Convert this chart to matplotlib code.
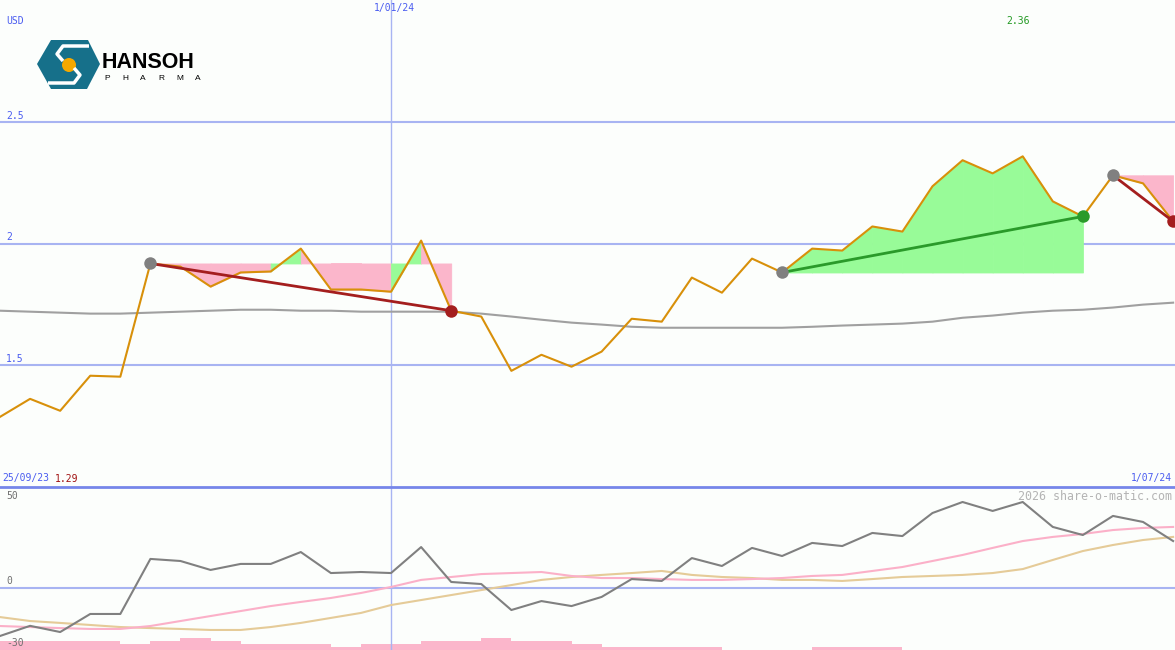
import numpy as np
import matplotlib
matplotlib.use("Agg")
import matplotlib.pyplot as plt
from matplotlib.patches import Polygon, Circle

# ---------------- data ----------------
price = [1.288, 1.362, 1.313, 1.457, 1.453, 1.918, 1.905, 1.823, 1.881, 1.885,
         1.979, 1.811, 1.811, 1.802, 2.012, 1.724, 1.700, 1.477, 1.543, 1.494,
         1.556, 1.691, 1.679, 1.860, 1.798, 1.938, 1.881, 1.979, 1.971, 2.070,
         2.049, 2.235, 2.342, 2.288, 2.358, 2.173, 2.111, 2.280, 2.247, 2.091]
ma_long = [1.724, 1.720, 1.716, 1.712, 1.712, 1.716, 1.720, 1.724, 1.728, 1.728,
           1.724, 1.724, 1.720, 1.720, 1.720, 1.720, 1.712, 1.700, 1.687, 1.675,
           1.667, 1.658, 1.654, 1.654, 1.654, 1.654, 1.654, 1.658, 1.663, 1.667,
           1.671, 1.679, 1.695, 1.704, 1.716, 1.724, 1.728, 1.737, 1.749, 1.757]
momentum = [-27.9, -22.0, -25.6, -15.1, -15.1, 16.9, 15.7, 10.5, 14.0, 14.0,
            20.9, 8.7, 9.3, 8.7, 23.8, 3.5, 2.3, -12.8, -7.6, -10.5,
            -5.2, 5.2, 4.1, 17.4, 12.8, 23.3, 18.6, 26.2, 24.4, 32.0,
            30.2, 43.6, 50.0, 44.8, 50.0, 35.5, 30.8, 41.9, 38.4, 27.3]
mom_fast = [-22.1, -22.7, -23.3, -23.8, -23.8, -22.1, -19.2, -16.3, -13.4, -10.5,
            -8.1, -5.8, -2.9, 0.6, 4.7, 6.4, 8.1, 8.7, 9.3, 7.0,
            5.8, 5.8, 5.2, 4.7, 4.7, 5.2, 5.8, 7.0, 7.6, 9.9,
            12.2, 15.7, 19.2, 23.3, 27.3, 29.7, 31.4, 33.7, 34.9, 35.5]
mom_slow = [-16.9, -19.2, -20.3, -21.5, -22.7, -23.3, -23.8, -24.4, -24.4, -22.7,
            -20.3, -17.4, -14.5, -9.9, -7.0, -4.1, -1.2, 1.7, 4.7, 6.4,
            7.6, 8.7, 9.9, 7.6, 6.4, 5.8, 4.7, 4.7, 4.1, 5.2,
            6.4, 7.0, 7.6, 8.7, 11.0, 16.3, 21.5, 25.0, 27.9, 29.7]
volume = [3, 3, 3, 3, 2, 3, 4, 3, 2, 2,
          2, 1, 2, 2, 3, 3, 4, 3, 3, 2,
          1, 1, 1, 1, 0, 0, 0, 1, 1, 1,
          0, 0, 0, 0, 0, 0, 0, 0, 0, 0]
# trend segments (start index, end index)
segments = [(5, 15), (26, 36), (37, 39)]
price_ticks = [1.5, 2.0, 2.5]
price_tick_labels = ["1.5", "2", "2.5"]
date_line_index = 13
date_line_label = "1/01/24"
start_label = "25/09/23"
end_label = "1/07/24"
start_price_label = "1.29"
high_label = "2.36"

# ---------------- style ----------------
BG = "#fcfefc"
GRID = "#a8b4f2"
DIV = "#7686ea"
TXTBLUE = "#4a5cf0"
ORANGE = "#d8900a"
PINK = "#fbb6cb"
GREEN = "#98fb98"
DARKRED = "#a41e1e"
DKGREEN = "#2a9a2a"
MONO = "DejaVu Sans Mono"

W, H = 1175, 650
SPLIT = 487
fig = plt.figure(figsize=(W / 100, H / 100), dpi=100, facecolor=BG)
ax = fig.add_axes([0, (H - SPLIT) / H, 1, SPLIT / H])
axb = fig.add_axes([0, 0, 1, (H - SPLIT) / H])
axv = axb.twinx()

n = len(price)
x = np.arange(n)
xmax = W / 30.08

# ---------------- top panel ----------------
ax.set_facecolor(BG)
ax.set_xlim(0, xmax)
ax.set_ylim(1.0, 3.0)
for v in price_ticks:
    ax.axhline(v, color=GRID, lw=1.5, zorder=1)
ax.axvline(date_line_index, color=GRID, lw=1, zorder=1)

for s, e in segments:
    level = price[s]
    for i in range(s, e):
        col = GREEN if price[i + 1] >= level else PINK
        ax.fill_between([i, i + 1], [price[i], price[i + 1]], level,
                        facecolor=col, edgecolor=col, lw=0.6, zorder=2)

ax.plot(x, ma_long, color="#a0a0a0", lw=1.5, zorder=3)
ax.plot(x, price, color=ORANGE, lw=1.5, zorder=4)

for s, e in segments:
    up = price[e] >= price[s]
    col = DKGREEN if up else DARKRED
    ax.plot([s, e], [price[s], price[e]], color=col, lw=2, zorder=5)
    ax.plot([s], [price[s]], "o", color="#808080", ms=9, mec="none", zorder=6)
    ax.plot([e], [price[e]], "o", color=col, ms=9, mec="none", zorder=6)

for sp in ax.spines.values():
    sp.set_visible(False)
ax.set_xticks([])
ax.set_yticks([])

# ---------------- bottom panel ----------------
axv.set_zorder(1)
axb.set_zorder(2)
axb.patch.set_visible(False)
axv.patch.set_visible(True)
axv.patch.set_facecolor(BG)
axv.set_ylim(0, (H - SPLIT) / 3.0)
axv.bar(x, volume, width=1.0, align="edge", color=PINK, lw=0)
axv.set_xlim(0, xmax)

axb.set_xlim(0, xmax)
axb.set_ylim(-(H - 588) / 1.72, (588 - SPLIT) / 1.72)
axb.axhline(0, color=GRID, lw=1.5, zorder=1)
axb.axvline(date_line_index, color=GRID, lw=1, zorder=1)
axb.plot(x, mom_slow, color="#e5cb98", lw=1.5, zorder=3)
axb.plot(x, mom_fast, color="#fbb0c8", lw=1.5, zorder=3)
axb.plot(x, momentum, color="#808080", lw=1.5, zorder=4)
axb.spines["top"].set_color(DIV)
axb.spines["top"].set_linewidth(2)
for a in (axb, axv):
    a.set_xticks([])
    a.set_yticks([])
    for k in ("left", "right", "bottom"):
        a.spines[k].set_visible(False)
axv.spines["top"].set_visible(False)

# ---------------- overlay: text + logo ----------------
ov = fig.add_axes([0, 0, 1, 1])
ov.set_xlim(0, W)
ov.set_ylim(H, 0)
ov.axis("off")
ov.set_zorder(10)

fs = 7
ov.text(6, 21.5, "USD", color=TXTBLUE, fontsize=fs, family=MONO, va="center")
for v, lab in zip(price_ticks, price_tick_labels):
    ypix = (3.0 - v) / 2.0 * SPLIT
    ov.text(6, ypix - 6, lab, color=TXTBLUE, fontsize=fs, family=MONO, va="center")
ov.text(date_line_index * 30.08 + 3, 8.5, date_line_label, color=TXTBLUE,
        fontsize=fs, family=MONO, va="center", ha="center")
ov.text(1006, 21, high_label, color="#229922", fontsize=fs, family=MONO, va="center")
ov.text(2, 478.5, start_label, color=TXTBLUE, fontsize=fs, family=MONO, va="center")
ov.text(55, 478.5, start_price_label, color="#a01010", fontsize=fs, family=MONO, va="center")
ov.text(1172, 478.5, end_label, color=TXTBLUE, fontsize=fs, family=MONO,
        va="center", ha="right")
ov.text(1172, 496, "2026 share-o-matic.com", color="#b4b4b4", fontsize=8.4,
        family=MONO, va="center", ha="right")
ov.text(6, 496, "50", color="#707070", fontsize=fs, family=MONO, va="center")
ov.text(6, 581.5, "0", color="#707070", fontsize=fs, family=MONO, va="center")
ov.text(6, 642.5, "-30", color="#707070", fontsize=fs, family=MONO, va="center")

# logo
TEAL = "#16708a"
hexagon = Polygon([(37, 64), (51, 40), (88, 40), (100, 64), (87, 89), (51, 89)],
                  closed=True, color=TEAL, lw=0)
ov.add_patch(hexagon)
ov.plot([89, 63, 57, 63], [46, 46, 54, 61], color="white", lw=2.5,
        solid_capstyle="butt", solid_joinstyle="round")
ov.plot([48, 74, 80, 74], [83, 83, 75, 68], color="white", lw=2.5,
        solid_capstyle="butt", solid_joinstyle="round")
ov.add_patch(Circle((69, 65), 7, color="#f5a800", lw=0))
ov.text(102, 62, "HANSOH", color="black", fontsize=15.5, fontweight="bold",
        family="Liberation Sans", va="center", ha="left")
for k, ch in enumerate("PHARMA"):
    ov.text(104 + k * 18.2, 78.5, ch, color="black", fontsize=6,
            family="Liberation Sans", va="center", ha="left")

fig.savefig("out.png", dpi=100, facecolor=BG)
